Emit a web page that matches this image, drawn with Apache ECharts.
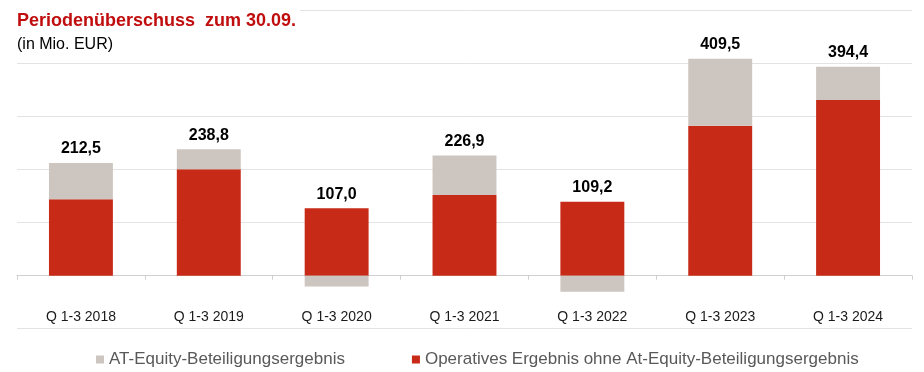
<!DOCTYPE html>
<html>
<head>
<meta charset="utf-8">
<script src="https://cdn.jsdelivr.net/npm/echarts@6/dist/echarts.min.js"></script>
<style>html,body{margin:0;padding:0;background:#fff}#c{width:924px;height:372px}</style>
</head>
<body>
<div id="c"></div>
<script>
const categories = ['Q 1-3 2018', 'Q 1-3 2019', 'Q 1-3 2020', 'Q 1-3 2021', 'Q 1-3 2022', 'Q 1-3 2023', 'Q 1-3 2024'];
const operating = [144.2, 200.8, 127.5, 152.3, 139.4, 283.0, 331.6];
const equity = [68.3, 38.0, -20.5, 74.6, -30.2, 126.5, 62.8];
const totals = [212.5, 238.8, 107.0, 226.9, 109.2, 409.5, 394.4];
const yTicks = [-100, 0, 100, 200, 300, 400, 500];

const fmt = v => v.toFixed(1).replace('.', ',');
const labelStyle = {
  position: 'top', distance: 6,
  fontFamily: 'Liberation Sans, Arial, sans-serif', fontSize: 16, fontWeight: 'bold', color: '#000',
  formatter: p => fmt(totals[p.dataIndex])
};

const chart = echarts.init(document.getElementById('c'), null, {renderer: 'canvas'});
chart.setOption({
  animation: false,
  backgroundColor: '#fff',
  title: [{
    text: 'Periodenüberschuss  zum 30.09.',
    left: 13, top: 10, padding: [2, 4, 2, 4],
    backgroundColor: '#fff',
    textStyle: {fontFamily: 'Liberation Sans, Arial, sans-serif', fontSize: 18, fontWeight: 'bold', color: '#c00d0d'}
  }, {
    text: '(in Mio. EUR)',
    left: 13, top: 37, padding: [0, 4, 0, 4],
    textStyle: {fontFamily: 'Liberation Sans, Arial, sans-serif', fontSize: 16, fontWeight: 'normal', color: '#000'}
  }],
  legend: {
    data: ['AT-Equity-Beteiligungsergebnis', 'Operatives Ergebnis ohne At-Equity-Beteiligungsergebnis'],
    left: 91, top: 346, itemWidth: 8, itemHeight: 8, itemGap: 67, icon: 'rect',
    textStyle: {fontFamily: 'Liberation Sans, Arial, sans-serif', fontSize: 17, color: '#595959'}
  },
  grid: {left: 17, right: 12, top: 10.7, bottom: 43.3, containLabel: false},
  xAxis: [{
    type: 'category', data: categories, position: 'bottom',
    axisLine: {onZero: true, lineStyle: {color: '#d0d0d0', width: 1}},
    axisTick: {show: true, length: 4, lineStyle: {color: '#d0d0d0'}},
    axisLabel: {show: false}
  }, {
    type: 'category', data: categories, position: 'bottom',
    axisLine: {show: false, onZero: false},
    axisTick: {show: false},
    axisLabel: {show: true, inside: true, margin: 5, fontFamily: 'Liberation Sans, Arial, sans-serif', fontSize: 14, color: '#1a1a1a'}
  }],
  yAxis: {
    type: 'value', min: yTicks[0], max: yTicks[yTicks.length - 1], interval: 100,
    axisLabel: {show: false}, axisLine: {show: false}, axisTick: {show: false},
    splitLine: {show: true, lineStyle: {color: '#e3e3e3', width: 1}}
  },
  series: [{
    name: 'Operatives Ergebnis ohne At-Equity-Beteiligungsergebnis',
    type: 'bar', stack: 'a', barWidth: '50%', xAxisIndex: 0,
    itemStyle: {color: '#c72a17'},
    data: operating.map((v, i) => ({value: v, label: Object.assign({show: equity[i] < 0}, labelStyle)}))
  }, {
    name: 'AT-Equity-Beteiligungsergebnis',
    type: 'bar', stack: 'a', barWidth: '50%', xAxisIndex: 0,
    itemStyle: {color: '#cdc6c0'},
    data: equity.map((v, i) => ({value: v, label: Object.assign({show: v > 0}, labelStyle)}))
  }]
});
</script>
</body>
</html>
